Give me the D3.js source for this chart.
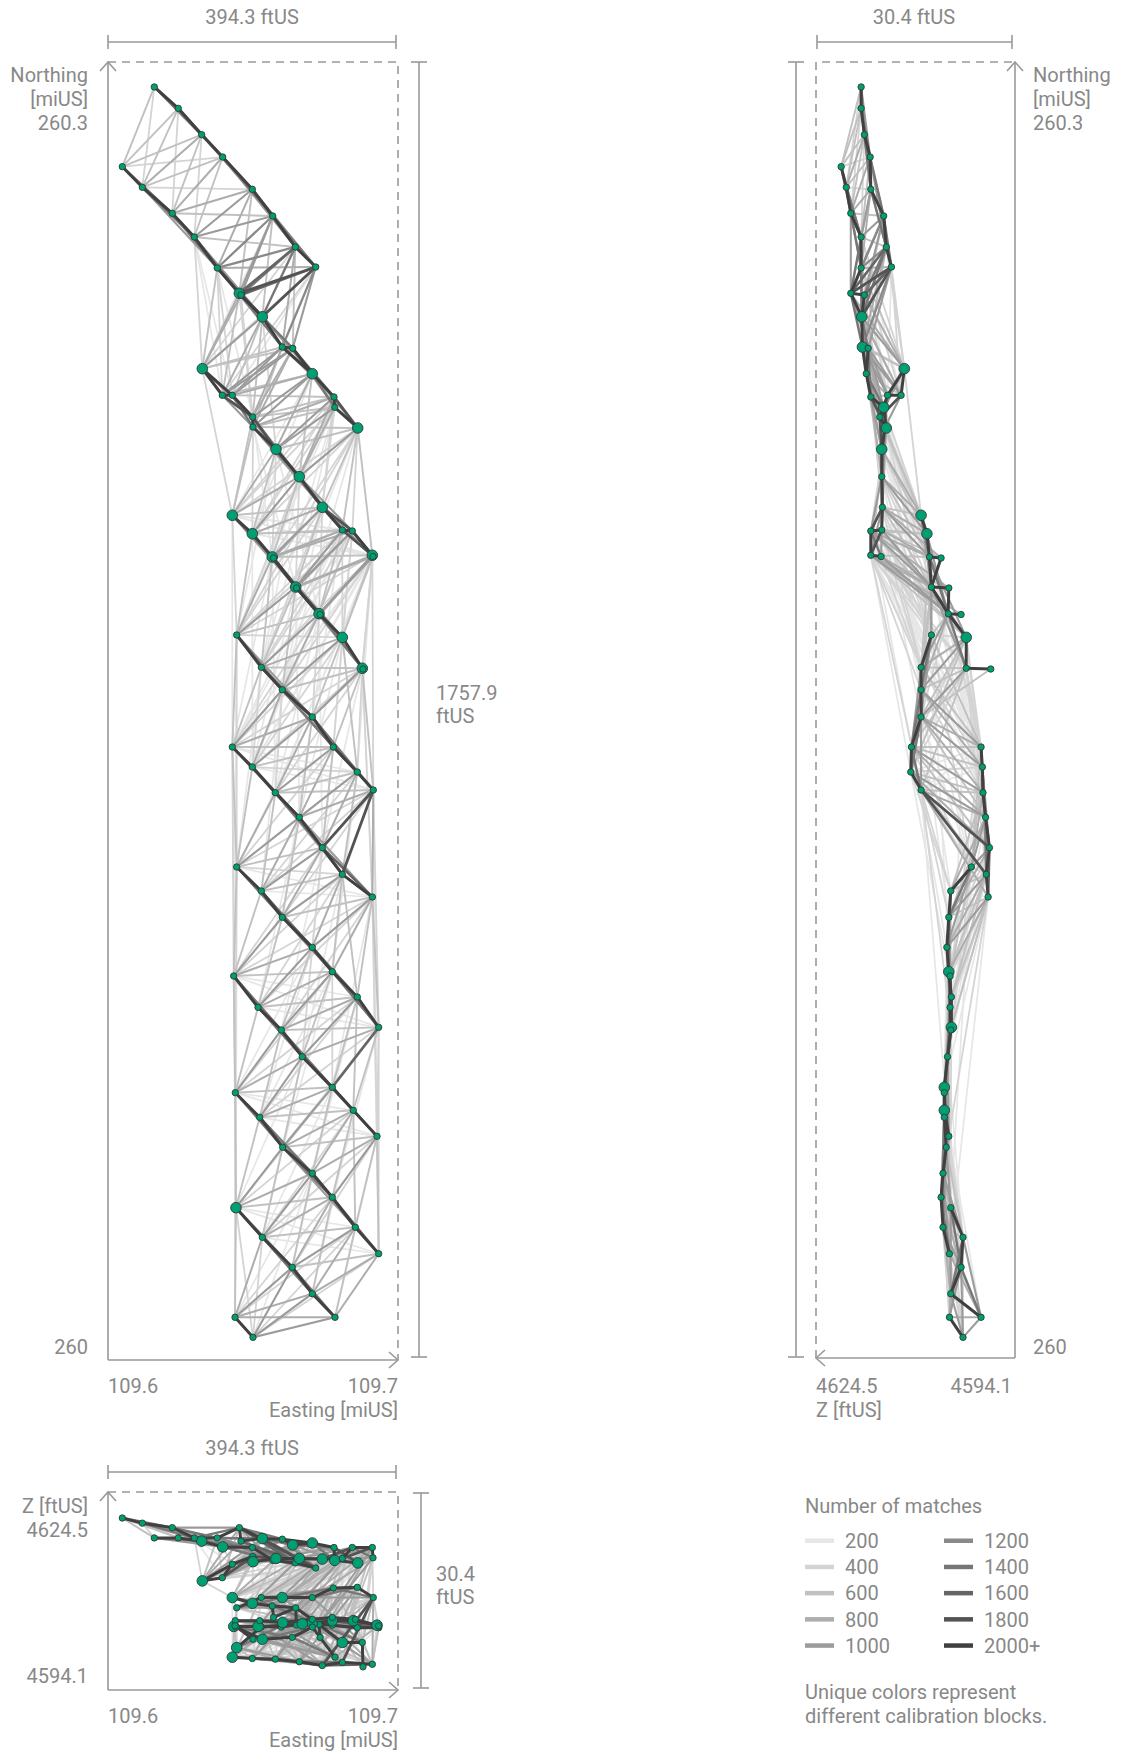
<!DOCTYPE html>
<html>
<head>
<meta charset="utf-8">
<script src="https://cdn.jsdelivr.net/npm/d3@7"></script>
<style>
  body { margin: 0; background: #fff; }
  text { font-family: Roboto, "Open Sans", sans-serif; font-size: 20px; fill: #888; }
</style>
</head>
<body>
<div class="chart"></div>
<script>
// Camera positions: [easting ft from west edge, northing ft from south edge, Z ftUS]
var cameras = [
  [63.4, 1724.0, 4617.5], [96.2, 1695.0, 4617.5], [128.3, 1659.2, 4617.0], [157.0, 1628.9, 4616.1], // 0-3
  [19.6, 1615.8, 4620.6], [47.0, 1587.8, 4619.8], [197.6, 1585.1, 4616.0], [88.0, 1552.5, 4619.1],   // 4-7
  [225.5, 1548.9, 4614.0], [118.2, 1520.3, 4617.5], [256.4, 1506.8, 4613.6], [284.4, 1479.6, 4612.8], // 8-11
  [149.6, 1478.3, 4617.5], [179.8, 1443.9, 4619.1], [182.1, 1441.6, 4617.0], [211.3, 1412.1, 4617.4], // 12-15
  [238.6, 1371.0, 4617.3], [252.9, 1369.3, 4616.4], [129.1, 1341.6, 4610.8], [279.7, 1334.8, 4616.7], // 16-19
  [156.5, 1305.5, 4611.3], [170.2, 1305.5, 4613.4], [309.4, 1303.2, 4616.0], [310.4, 1289.2, 4614.0], // 20-23
  [198.1, 1276.0, 4614.6], [198.5, 1262.4, 4613.8], [341.9, 1261.1, 4613.6], [230.0, 1232.2, 4614.3], // 24-27
  [261.9, 1195.0, 4614.3], [293.4, 1153.4, 4614.2], [170.2, 1142.6, 4608.2], [320.8, 1122.6, 4614.3], // 28-31
  [334.5, 1121.3, 4616.0], [197.6, 1117.6, 4607.3], [361.9, 1088.3, 4616.0], [362.8, 1086.6, 4614.4], // 32-35
  [224.9, 1086.0, 4606.9], [226.6, 1084.6, 4605.1], [257.0, 1045.2, 4606.6], [258.1, 1043.9, 4603.9], // 36-39
  [288.9, 1009.0, 4604.0], [290.3, 1007.9, 4602.0], [176.2, 980.1, 4606.6], [320.8, 976.9, 4601.2],   // 40-43
  [209.9, 936.2, 4608.2], [348.2, 934.9, 4601.2], [349.1, 933.9, 4597.4], [238.6, 905.8, 4608.2],     // 44-47
  [279.7, 868.8, 4608.2], [170.2, 828.0, 4598.9], [308.5, 828.0, 4609.7], [197.6, 800.9, 4598.7],     // 48-51
  [341.3, 794.1, 4609.8], [363.2, 769.7, 4608.2], [229.1, 766.0, 4598.6], [261.9, 732.6, 4598.2],     // 52-55
  [293.4, 691.4, 4597.6], [176.2, 665.2, 4600.4], [320.8, 655.2, 4598.1], [209.9, 632.6, 4603.6],     // 56-59
  [361.9, 624.4, 4597.8], [238.6, 596.9, 4603.9], [279.7, 556.1, 4604.2], [307.1, 523.0, 4603.9],     // 60-63
  [172.1, 517.2, 4603.7], [341.3, 488.7, 4603.5], [205.4, 474.7, 4603.7], [370.6, 447.5, 4603.5],     // 64-67
  [237.3, 443.9, 4603.6], [266.0, 407.6, 4604.1], [307.1, 366.1, 4604.6], [174.3, 358.8, 4604.6],     // 68-71
  [335.8, 334.9, 4604.6], [207.7, 325.4, 4604.6], [368.3, 299.6, 4603.9], [239.2, 284.7, 4604.3],     // 72-75
  [279.7, 249.4, 4604.8], [307.1, 216.8, 4605.1], [175.2, 202.7, 4603.6], [338.6, 176.1, 4604.8],     // 76-79
  [211.3, 162.5, 4601.7], [370.6, 140.2, 4603.8], [252.3, 121.8, 4602.0], [279.7, 85.9, 4603.6],      // 80-83
  [173.9, 53.9, 4603.8], [310.8, 53.9, 4598.9], [198.5, 26.7, 4601.7]                                  // 84-86
];

// Cameras drawn with a large marker in each view
var planLarge = [13, 15, 18, 19, 26, 27, 28, 29, 30, 33, 34, 36, 38, 40, 43, 45, 78];
var sideLarge = [15, 16, 18, 23, 26, 27, 30, 33, 43, 63, 67, 70, 72];
var frontLarge = [2, 3, 15, 17, 18, 19, 23, 25, 26, 27, 28, 29, 30, 33, 43, 47, 49, 57, 62, 64, 66, 69, 70, 72, 74, 75, 80];

// Matches between camera pairs along each flight line: [camera a, camera b, matches]
var lineLinks = [
  [0,1,2000],[1,2,2000],[2,3,2000],[3,6,2000],[6,8,2000],[8,10,2000],[10,11,2000],
  [4,5,2000],[5,7,2000],[7,9,2000],[9,12,2000],[12,13,2000],[13,14,2000],[13,15,2000],[14,15,2000],
  [15,16,2000],[16,17,2000],[17,19,2000],[16,19,2000],[19,22,2000],[22,23,2000],[23,26,2000],[22,26,1800],
  [18,20,2000],[20,21,2000],[18,21,2000],[21,24,2000],[24,25,2000],[20,24,1800],[25,27,2000],[24,27,1800],
  [27,28,2000],[28,29,2000],[29,31,2000],[31,32,2000],[29,32,1800],[32,34,2000],[34,35,2000],[31,34,1800],
  [30,33,2000],[33,36,2000],[36,37,2000],[36,38,2000],[37,38,2000],[38,39,2000],[38,40,2000],[39,40,2000],
  [40,41,2000],[40,43,2000],[43,45,2000],[45,46,2000],
  [42,44,2000],[44,47,2000],[47,48,2000],[48,50,2000],[50,52,2000],[52,53,2000],
  [49,51,2000],[51,54,2000],[54,55,2000],[55,56,2000],[56,58,2000],[58,60,2000],
  [57,59,2000],[59,61,2000],[61,62,2000],[62,63,2000],[63,65,2000],[65,67,2000],
  [64,66,2000],[66,68,2000],[68,69,2000],[69,70,2000],[70,72,2000],[72,74,2000],
  [71,73,2000],[73,75,2000],[75,76,2000],[76,77,2000],[77,79,2000],[79,81,2000],
  [78,80,2000],[80,82,2000],[82,83,2000],[83,85,2000],[84,86,2000],
  [10,13,1600],[11,13,1800],[11,15,1800],[10,14,1400],[11,14,1600],
  [53,56,1800],[53,58,1800],[56,60,1600],[67,70,1600],
  [0,2,1400],[1,3,1400],[2,6,1400],[3,8,1400],[6,10,1400],[8,11,1400],[0,3,1000],[1,6,1000],[2,8,1000],[3,10,1000],[6,11,1000],
  [4,7,1400],[5,9,1400],[7,12,1400],[9,13,1400],[12,15,1400],[13,16,1400],[15,17,1400],[17,22,1400],[19,23,1400],
  [4,9,1000],[5,12,1000],[7,13,1000],[9,15,1000],[12,16,1000],[13,17,1000],[15,19,1000],[16,22,1000],[17,23,1000],[19,26,1000],
  [21,25,1400],[25,28,1400],[27,29,1400],[28,31,1400],[32,35,1400],
  [18,24,1000],[20,25,1000],[21,27,1000],[24,28,1000],[25,29,1000],[27,31,1000],[28,32,1000],[29,34,1000],[31,35,1000],
  [30,36,1400],[33,38,1400],[36,40,1400],[38,43,1400],[40,45,1400],[30,38,1000],[33,40,1000],[36,43,1000],[38,45,1000],
  [42,47,1400],[44,48,1400],[47,50,1400],[48,52,1400],[50,53,1400],[42,48,1000],[44,50,1000],[47,52,1000],[48,53,1000],
  [49,54,1400],[51,55,1400],[54,56,1400],[55,58,1400],[49,55,1000],[51,56,1000],[54,58,1000],[55,60,1000],
  [57,61,1400],[59,62,1400],[61,63,1400],[62,65,1400],[63,67,1400],[57,62,1000],[59,63,1000],[61,65,1000],[62,67,1000],
  [64,68,1400],[66,69,1400],[68,70,1400],[69,72,1400],[70,74,1400],[64,69,1000],[66,70,1000],[68,72,1000],[69,74,1000],
  [71,75,1400],[73,76,1400],[75,77,1400],[76,79,1400],[77,81,1400],[71,76,1000],[73,77,1000],[75,79,1000],[76,81,1000],
  [78,82,1400],[80,83,1400],[82,85,1400],[78,83,1000],[80,85,1000]
];

// Matches between neighbouring flight lines
var crossLinks = [
  [0,4,500],[0,5,300],[1,4,600],[1,5,600],[1,7,400],[2,4,500],[2,5,700],[2,7,600],[2,9,400],[3,4,400],[3,5,600],[3,7,800],[3,9,600],
  [6,5,400],[6,7,700],[6,9,1000],[6,12,800],[6,13,500],[8,7,500],[8,9,900],[8,12,1200],[8,13,1000],[8,14,1000],[8,15,600],
  [10,9,600],[10,12,1200],[10,15,1400],[10,16,700],[10,17,600],[11,12,800],[11,16,1200],[11,17,1000],
  [18,12,500],[18,13,800],[18,14,800],[18,15,1000],[18,16,600],[18,17,500],
  [20,13,500],[20,15,800],[20,16,1000],[20,17,1000],[20,19,600],
  [21,15,600],[21,16,1000],[21,17,1000],[21,19,800],[21,22,500],
  [24,15,500],[24,16,800],[24,17,800],[24,19,1000],[24,22,600],[24,23,600],
  [25,16,600],[25,17,800],[25,19,1000],[25,22,800],[25,23,600],[25,26,500],
  [27,19,800],[27,22,1000],[27,23,1000],[27,26,600],[28,19,500],[28,22,800],[28,23,800],[28,26,1000],
  [29,22,400],[29,23,400],[29,26,600],[31,26,500],[32,26,400],
  [30,24,500],[30,25,500],[30,27,800],[30,28,800],[30,29,500],
  [33,25,400],[33,27,600],[33,28,1000],[33,29,800],[33,31,500],[33,32,500],
  [36,27,400],[36,28,600],[36,29,1000],[36,31,800],[36,32,800],[36,34,500],[37,29,800],[37,31,600],
  [38,28,400],[38,29,600],[38,31,1000],[38,32,1000],[38,34,800],[38,35,800],[39,32,800],[39,34,600],
  [40,29,400],[40,31,600],[40,32,600],[40,34,1000],[40,35,1000],[41,34,800],
  [43,31,400],[43,32,400],[43,34,600],[43,35,600],[45,34,400],[45,35,400],
  [42,33,500],[42,36,800],[42,38,1000],[42,40,600],[42,43,400],
  [44,36,500],[44,38,600],[44,40,1000],[44,43,800],[44,45,500],
  [47,38,500],[47,40,800],[47,43,1000],[47,45,600],[48,40,400],[48,43,600],[48,45,1000],[48,46,600],
  [50,43,400],[50,45,600],[52,45,400],
  [49,44,600],[49,47,1000],[49,48,800],[49,50,500],
  [51,44,400],[51,47,800],[51,48,1000],[51,50,600],[51,52,400],
  [54,47,400],[54,48,800],[54,50,1000],[54,52,600],[54,53,500],
  [55,48,500],[55,50,800],[55,52,1000],[55,53,800],[56,50,500],[56,52,800],[58,52,600],[60,53,800],
  [57,51,500],[57,54,800],[57,55,1000],[57,56,600],[57,58,400],
  [59,54,500],[59,55,800],[59,56,1000],[59,58,600],
  [61,55,500],[61,56,800],[61,58,1000],[61,60,600],
  [62,56,400],[62,58,800],[62,60,1000],[63,58,500],[63,60,800],[65,60,500],
  [64,59,600],[64,61,1000],[64,62,800],[64,63,500],
  [66,61,600],[66,62,1000],[66,63,800],[66,65,500],
  [68,62,600],[68,63,1000],[68,65,800],[68,67,500],
  [69,62,400],[69,63,600],[69,65,1000],[69,67,800],
  [70,63,300],[70,65,600],[72,67,600],[74,67,400],
  [71,66,600],[71,68,1000],[71,69,800],[71,70,500],
  [73,68,600],[73,69,1000],[73,70,800],[73,72,500],
  [75,69,500],[75,70,1000],[75,72,800],[75,74,500],
  [76,70,600],[76,72,800],[76,74,800],[77,72,600],[77,74,1000],[79,74,600],
  [78,73,600],[78,75,1000],[78,76,800],[78,77,500],
  [80,75,600],[80,76,1000],[80,77,800],[80,79,500],
  [82,76,500],[82,77,800],[82,79,1000],[82,81,600],
  [83,77,500],[83,79,800],[83,81,800],[85,79,600],[85,81,800],
  [84,80,800],[84,82,1000],[84,83,800],[84,85,800],[86,82,1000],[86,83,1000],[86,85,1000]
];

// Weak matches between distant flight lines
var farLinks = [
  [18,10,400],[18,11,400],[18,8,200],[20,11,300],[21,11,200],[13,24,300],[14,25,300],[12,21,300],[9,18,300],[15,27,400],
  [12,24,200],[13,25,200],[9,20,200],[12,20,300],[9,21,200],[14,24,200],
  [30,19,200],[30,22,400],[30,23,400],[30,26,400],[33,22,300],[33,23,300],[33,26,400],[36,26,300],
  [27,42,200],[28,42,300],[26,44,200],[23,42,200],[26,42,300],[29,44,300],[26,47,200],[23,44,200],[22,42,200],
  [42,29,300],[42,31,400],[42,32,400],[42,34,400],[44,31,300],[44,32,300],[44,34,400],[47,34,300],
  [30,31,200],[30,32,200],[30,34,200],[30,35,200],[33,34,200],[33,35,200],
  [34,49,200],[34,51,200],[35,51,200],[32,49,200],[31,51,200],[34,54,200],[35,54,200],[32,51,200],[31,49,200],[35,49,200],
  [49,40,300],[49,43,400],[49,45,400],[51,43,300],[51,45,400],[54,45,300],
  [42,50,200],[42,52,200],[44,52,200],[44,53,200],[47,53,200],
  [57,50,400],[57,52,400],[57,53,300],[57,48,200],[59,52,400],[59,53,400],[61,53,300],
  [49,52,200],[49,53,200],[51,53,200],
  [64,56,300],[64,58,400],[64,60,300],[66,58,300],[66,60,400],[68,60,300],
  [57,60,200],[57,63,200],[59,60,200],[59,65,200],[64,65,200],[64,67,200],[66,67,200],
  [71,62,200],[71,63,400],[71,65,400],[73,65,400],[73,67,400],[75,67,400],
  [71,72,200],[71,74,200],[73,74,200],[63,73,200],
  [78,70,400],[78,72,400],[78,69,200],[80,72,300],[80,74,400],[82,74,300],
  [78,79,200],[78,81,200],[80,81,200],[70,80,200],
  [84,79,300],[84,77,300],[86,79,300],[86,81,300],[76,84,200],[76,86,200],[80,86,300],[78,86,300],
  [18,30,300],[30,42,400],[42,49,600],[49,57,600],[57,64,600],[64,71,600],[71,78,600],[78,84,600],
  [42,57,300],[49,64,300],[57,71,300],[64,78,300],[71,84,300],
  [49,71,200],[57,78,200],[42,64,200],[45,67,200],[53,74,200],[60,81,200],
  [26,34,600],[45,53,600],[60,67,600],[74,81,600],
  [43,52,500],[58,65,600],[65,72,600],[72,79,600],
  [34,53,300],[45,60,300],[53,67,300],[60,74,300],[67,81,300],
  [30,49,200],[33,51,200],[36,54,200],[38,55,200],[40,56,200],
  [44,57,200],[47,59,200],[48,61,200],[50,62,200],[52,63,200],
  [55,66,200],[56,68,200],[58,69,200],[60,70,200],
  [62,73,200],[63,75,200],[65,76,200],[67,77,200],
  [69,80,200],[70,82,200],[72,83,200],[74,85,200],
  [28,44,200],[29,47,200],[31,48,200],[32,50,200],[34,52,200],
  [36,49,200],[38,51,200],[40,54,200],[43,55,200],[45,56,200],
  [24,36,200],[25,38,200],[27,40,200],[19,33,200],[22,36,200],[23,38,200]
];

// Legend bins
var matchBins = [200, 400, 600, 800, 1000, 1200, 1400, 1600, 1800, 2000];
var binLabels = ["200", "400", "600", "800", "1000", "1200", "1400", "1600", "1800", "2000+"];
var binColors = ["#e6e6e6", "#d4d4d4", "#c1c1c1", "#adadad", "#9b9b9b", "#898989", "#777777", "#656565", "#535353", "#404040"];

// Extents and tick labels
var eastSpan = 394.3, northSpan = 1757.9, zMin = 4594.1, zMax = 4624.5;
var eastTicks = ["109.6", "109.7"];
var northTicks = ["260", "260.3"];
var zTicks = ["4594.1", "4624.5"];

var svg = d3.select(".chart").append("svg")
  .attr("width", 1129)
  .attr("height", 1753);

// Scales
var xEast = d3.scaleLinear().domain([0, eastSpan]).range([108, 396]);
var yNorth = d3.scaleLinear().domain([0, northSpan]).range([1357, 62]);
var xZ = d3.scaleLinear().domain([zMax, zMin]).range([816, 1012]);
var yZ = d3.scaleLinear().domain([zMin, zMax]).range([1688, 1493]);
var color = d3.scaleThreshold()
  .domain(matchBins.slice(1).map(function(d) { return d - 100; }))
  .range(binColors);
var width = d3.scaleThreshold()
  .domain(matchBins.slice(1).map(function(d) { return d - 100; }))
  .range([1.7, 1.8, 1.9, 2.0, 2.1, 2.3, 2.4, 2.6, 2.8, 3.0]);

var links = lineLinks.concat(crossLinks, farLinks)
  .sort(function(a, b) { return a[2] - b[2]; });

var axisColor = "#999";

function drawView(px, py, large) {
  var g = svg.append("g");
  g.selectAll("line.link")
    .data(links)
    .enter().append("line")
    .attr("class", "link")
    .attr("x1", function(d) { return px(cameras[d[0]]); })
    .attr("y1", function(d) { return py(cameras[d[0]]); })
    .attr("x2", function(d) { return px(cameras[d[1]]); })
    .attr("y2", function(d) { return py(cameras[d[1]]); })
    .attr("stroke", function(d) { return color(d[2]); })
    .attr("stroke-width", function(d) { return width(d[2]); })
    .attr("stroke-linecap", "round");

  g.selectAll("circle")
    .data(cameras)
    .enter().append("circle")
    .attr("cx", function(d) { return px(d); })
    .attr("cy", function(d) { return py(d); })
    .attr("r", function(d, i) { return large.indexOf(i) >= 0 ? 5.3 : 3.2; })
    .attr("fill", "#009e73")
    .attr("stroke", "#2e3b36")
    .attr("stroke-width", 0.9);
}

function line(points, dashed) {
  svg.append("path")
    .attr("d", d3.line()(points))
    .attr("fill", "none")
    .attr("stroke", axisColor)
    .attr("stroke-width", 1.6)
    .attr("stroke-dasharray", dashed ? "8,6" : null);
}

function text(x, y, s, anchor) {
  svg.append("text")
    .attr("x", x)
    .attr("y", y)
    .attr("text-anchor", anchor || "start")
    .text(s);
}

function hBar(x0, x1, y) {
  line([[x0, y], [x1, y]]);
  line([[x0, y - 7], [x0, y + 7]]);
  line([[x1, y - 7], [x1, y + 7]]);
}

function vBar(x, y0, y1) {
  line([[x, y0], [x, y1]]);
  line([[x - 8, y0], [x + 8, y0]]);
  line([[x - 8, y1], [x + 8, y1]]);
}

// ---- Plan view: Easting vs Northing
var pL = xEast(0), pR = xEast(eastSpan) + 2, pT = yNorth(northSpan), pB = yNorth(0) + 3;
drawView(function(c) { return xEast(c[0]); }, function(c) { return yNorth(c[1]); }, planLarge);
line([[pL, pB], [pL, pT]]);
line([[pL - 8, pT + 9], [pL, pT], [pL + 8, pT + 9]]);
line([[pL, pB], [pR, pB]]);
line([[pR - 9, pB - 8], [pR, pB], [pR - 9, pB + 8]]);
line([[pL, pT], [pR, pT], [pR, pB]], true);
hBar(xEast(0), xEast(eastSpan), 42);
text((xEast(0) + xEast(eastSpan)) / 2, 24, eastSpan + " ftUS", "middle");
vBar(419, yNorth(northSpan), yNorth(0));
text(436, 700, String(northSpan));
text(436, 723, "ftUS");
text(88, 82, "Northing", "end");
text(88, 106, "[miUS]", "end");
text(88, 130, northTicks[1], "end");
text(88, 1354, northTicks[0], "end");
text(pL, 1393, eastTicks[0]);
text(pR, 1393, eastTicks[1], "end");
text(pR, 1417, "Easting [miUS]", "end");

// ---- Side view: Z vs Northing
var sL = xZ(zMax), sR = xZ(zMin) + 3, sB = yNorth(0) + 1;
drawView(function(c) { return xZ(c[2]); }, function(c) { return yNorth(c[1]); }, sideLarge);
line([[sR, sB], [sR, pT]]);
line([[sR - 8, pT + 9], [sR, pT], [sR + 8, pT + 9]]);
line([[sR, sB], [sL, sB]]);
line([[sL + 9, sB - 8], [sL, sB], [sL + 9, sB + 8]]);
line([[sL, sB], [sL, pT], [sR, pT]], true);
hBar(xZ(zMax) + 1, xZ(zMin), 42);
text((xZ(zMax) + xZ(zMin)) / 2, 24, (zMax - zMin).toFixed(1) + " ftUS", "middle");
vBar(796, yNorth(northSpan), yNorth(0));
text(1033, 82, "Northing");
text(1033, 106, "[miUS]");
text(1033, 130, northTicks[1]);
text(1033, 1354, northTicks[0]);
text(sL, 1393, zTicks[1]);
text(xZ(zMin), 1393, zTicks[0], "end");
text(sL, 1417, "Z [ftUS]");

// ---- Front view: Easting vs Z
var fT = yZ(zMax) - 1, fB = yZ(zMin) + 2;
drawView(function(c) { return xEast(c[0]); }, function(c) { return yZ(c[2]); }, frontLarge);
line([[pL, fB], [pL, fT]]);
line([[pL - 8, fT + 9], [pL, fT], [pL + 8, fT + 9]]);
line([[pL, fB], [pR, fB]]);
line([[pR - 9, fB - 8], [pR, fB], [pR - 9, fB + 8]]);
line([[pL, fT], [pR, fT], [pR, fB]], true);
hBar(xEast(0), xEast(eastSpan), 1472);
text((xEast(0) + xEast(eastSpan)) / 2, 1455, eastSpan + " ftUS", "middle");
vBar(421, yZ(zMax), yZ(zMin));
text(436, 1581, (zMax - zMin).toFixed(1));
text(436, 1604, "ftUS");
text(88, 1513, "Z [ftUS]", "end");
text(88, 1537, zTicks[1], "end");
text(88, 1683, zTicks[0], "end");
text(pL, 1723, eastTicks[0]);
text(pR, 1723, eastTicks[1], "end");
text(pR, 1747, "Easting [miUS]", "end");

// ---- Legend
text(805, 1513, "Number of matches");
var legend = svg.append("g").selectAll("g")
  .data(matchBins)
  .enter().append("g")
  .attr("transform", function(d, i) {
    return "translate(" + (i < 5 ? 805 : 944) + "," + (1548 + (i % 5) * 26.2) + ")";
  });
legend.append("rect")
  .attr("x", 0).attr("y", -9.5)
  .attr("width", 29).attr("height", 4.5)
  .attr("fill", function(d) { return color(d); });
legend.append("text")
  .attr("x", 40)
  .text(function(d, i) { return binLabels[i]; });
text(805, 1699, "Unique colors represent");
text(805, 1723, "different calibration blocks.");
</script>
</body>
</html>
